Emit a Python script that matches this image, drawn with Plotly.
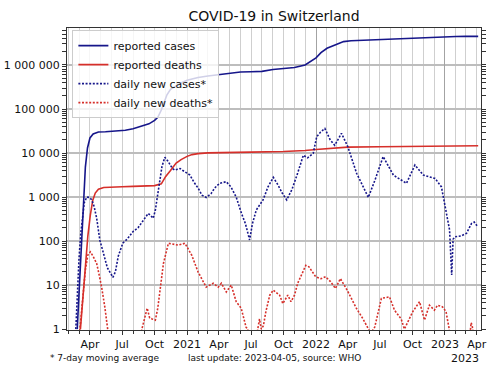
import plotly.graph_objects as go

# ---------------- data ----------------
cases_dates = ["2020-02-25", "2020-03-03", "2020-03-08", "2020-03-12", "2020-03-15", "2020-03-19",
               "2020-03-25", "2020-04-01", "2020-04-10", "2020-04-25", "2020-05-15", "2020-06-15",
               "2020-07-10", "2020-08-01", "2020-08-25", "2020-09-15", "2020-10-01", "2020-10-10",
               "2020-10-20", "2020-10-28", "2020-11-05", "2020-11-15", "2020-12-01", "2020-12-15",
               "2021-01-01", "2021-02-01", "2021-03-01", "2021-04-01", "2021-05-01", "2021-06-01",
               "2021-07-01", "2021-08-01", "2021-09-01", "2021-10-01", "2021-11-01", "2021-12-01",
               "2021-12-20", "2022-01-01", "2022-01-15", "2022-02-01", "2022-03-01", "2022-03-20",
               "2022-04-10", "2022-05-15", "2022-06-15", "2022-07-10", "2022-08-01", "2022-09-01",
               "2022-10-01", "2022-11-01", "2022-12-01", "2023-01-01", "2023-02-01", "2023-03-01",
               "2023-04-05"]
cases_values = [1, 14, 120, 560, 1450, 4800,
                13000, 22000, 27000, 30000, 30500, 31200,
                33000, 35500, 40000, 46000, 55000, 65000,
                95000, 150000, 210000, 280000, 340000, 390000,
                450000, 520000, 560000, 600000, 660000, 690000,
                700000, 715000, 790000, 845000, 875000, 1000000,
                1250000, 1450000, 1900000, 2400000, 2950000, 3400000,
                3550000, 3650000, 3720000, 3850000, 3980000, 4050000,
                4150000, 4300000, 4380000, 4430000, 4450000, 4460000,
                4470000]

deaths_dates = ["2020-03-05", "2020-03-12", "2020-03-19", "2020-03-26", "2020-04-02", "2020-04-09",
                "2020-04-16", "2020-04-25", "2020-05-10", "2020-06-01", "2020-07-01", "2020-08-01",
                "2020-09-01", "2020-10-01", "2020-10-20", "2020-11-01", "2020-11-15", "2020-12-01",
                "2020-12-15", "2021-01-01", "2021-01-15", "2021-02-01", "2021-03-01", "2021-04-01",
                "2021-07-01", "2021-10-01", "2021-11-01", "2021-12-01", "2022-01-01", "2022-02-01",
                "2022-03-01", "2022-04-01", "2022-07-01", "2022-10-01", "2023-01-01", "2023-04-05"]
deaths_values = [1, 5, 28, 130, 390, 850,
                 1230, 1500, 1650, 1700, 1720, 1750,
                 1780, 1820, 2000, 2900, 4000, 5900,
                 7100, 8400, 9200, 9700, 10100, 10300,
                 10500, 10800, 11000, 11400, 12000, 12700,
                 13200, 13600, 13900, 14100, 14400, 14600]

new_cases_dates = ["2020-02-21", "2020-02-26", "2020-03-01", "2020-03-06", "2020-03-11", "2020-03-16",
                   "2020-03-23", "2020-03-30", "2020-04-06", "2020-04-13", "2020-04-20", "2020-04-29",
                   "2020-05-10", "2020-05-20", "2020-06-05", "2020-06-12", "2020-06-20", "2020-07-03",
                   "2020-07-15", "2020-07-25", "2020-08-01", "2020-08-15", "2020-08-25", "2020-09-05",
                   "2020-09-13", "2020-09-20", "2020-09-27", "2020-10-03", "2020-10-08", "2020-10-15",
                   "2020-10-22", "2020-10-30", "2020-11-08", "2020-11-20", "2020-11-27", "2020-12-05",
                   "2020-12-12", "2020-12-20", "2021-01-01", "2021-01-09", "2021-01-20", "2021-02-01",
                   "2021-02-12", "2021-02-24", "2021-03-10", "2021-03-20", "2021-04-03", "2021-04-22",
                   "2021-05-05", "2021-05-20", "2021-06-04", "2021-06-15", "2021-06-27", "2021-07-05",
                   "2021-07-16", "2021-08-04", "2021-08-18", "2021-09-02", "2021-09-15", "2021-09-28",
                   "2021-10-10", "2021-10-25", "2021-11-10", "2021-11-26", "2021-12-08", "2021-12-24",
                   "2022-01-03", "2022-01-14", "2022-01-26", "2022-02-10", "2022-02-23", "2022-03-14",
                   "2022-04-01", "2022-04-26", "2022-05-29", "2022-06-17", "2022-07-10", "2022-08-08",
                   "2022-09-14", "2022-10-08", "2022-11-01", "2022-12-04", "2022-12-22", "2023-01-06",
                   "2023-01-14", "2023-01-20", "2023-01-24", "2023-01-29", "2023-02-15", "2023-03-03",
                   "2023-03-17", "2023-03-25", "2023-04-04"]
new_cases_values = [1, 10, 40, 150, 400, 750,
                    1000, 980, 870, 600, 330, 105,
                    50, 25, 15, 20, 45, 90,
                    110, 140, 165, 200, 260, 350,
                    425, 380, 330, 500, 900, 2200,
                    5000, 8000, 6500, 4500, 4100, 4300,
                    4450, 4000, 3500, 3170, 2200, 1600,
                    1100, 980, 1200, 1600, 2050, 2230,
                    1700, 1000, 425, 250, 106, 250,
                    510, 860, 1700, 2800, 1900, 1200,
                    860, 1500, 3500, 8900, 7800, 9800,
                    23500, 30000, 36000, 20000, 15000, 28000,
                    13900, 3450, 980, 2450, 8300, 3150,
                    2050, 5350, 3150, 2650, 1700, 355,
                    180, 17, 110, 125, 130, 150,
                    250, 270, 210]

new_deaths_dates = ["2020-03-03", "2020-03-12", "2020-03-19", "2020-03-26", "2020-04-02", "2020-04-10",
                    "2020-04-20", "2020-04-27", "2020-05-04", "2020-05-13", "2020-05-22", "2020-05-26",
                    "2020-06-01",
                    "2020-08-22", "2020-08-26", "2020-09-10", "2020-09-17", "2020-09-24", "2020-10-03",
                    "2020-10-10", "2020-10-18", "2020-10-26", "2020-11-09", "2020-11-22", "2020-12-07",
                    "2020-12-26", "2021-01-14", "2021-02-01", "2021-02-24", "2021-03-16", "2021-03-30",
                    "2021-04-08", "2021-04-22", "2021-05-06", "2021-05-20", "2021-06-03", "2021-06-17",
                    "2021-06-22", "2021-06-25",
                    "2021-06-28",
                    "2021-07-17", "2021-07-20", "2021-07-25", "2021-07-30", "2021-08-05", "2021-08-12",
                    "2021-08-23", "2021-09-02", "2021-09-20", "2021-09-29", "2021-10-13", "2021-10-22",
                    "2021-11-01", "2021-11-10", "2021-12-03", "2021-12-12", "2021-12-31", "2022-01-15",
                    "2022-01-28", "2022-02-11", "2022-02-25", "2022-03-11", "2022-03-30", "2022-04-25",
                    "2022-05-14", "2022-05-28", "2022-06-05", "2022-06-16", "2022-07-05", "2022-07-28",
                    "2022-08-11", "2022-08-30", "2022-09-08", "2022-09-13", "2022-10-02", "2022-10-21",
                    "2022-11-04", "2022-11-18", "2022-12-02", "2022-12-11", "2022-12-25", "2023-01-04",
                    "2023-01-13", "2023-01-16",
                    "2023-01-20",
                    "2023-03-13", "2023-03-16", "2023-03-19", "2023-03-22"]
new_deaths_values = [0.9, 5, 22, 48, 57, 45,
                     31, 17, 9, 3.2, 1, 0.5,
                     None,
                     0.5, 1, 3, 1.8, 1.7, 1.6,
                     3, 10, 31, 89, 85, 81,
                     89, 48, 20, 9, 11, 9,
                     11, 7, 10, 4.2, 3, 1.1,
                     1, 0.5,
                     None,
                     0.5, 1, 1.7, 1, 1.2, 2.5,
                     5.9, 7.7, 5.9, 3.8, 5.9, 4.2,
                     5.9, 11, 28, 26, 15.5, 14,
                     15.5, 12, 8.4, 14, 7.7, 3,
                     1.7, 1.0, 0.8, 1.1, 5, 5.4,
                     2.7, 1.7, 1, 1.2, 2.5, 4.2,
                     1.6, 3.5, 2.7, 3.5, 3.2, 2.5,
                     1, 0.5,
                     None,
                     0.8, 1.4, 1.2, 0.8]

quarter_ticks = ["2020-04-01", "2020-07-01", "2020-10-01", "2021-01-01", "2021-04-01", "2021-07-01",
                 "2021-10-01", "2022-01-01", "2022-04-01", "2022-07-01", "2022-10-01", "2023-01-01",
                 "2023-04-01"]
quarter_labels = ["Apr", "Jul", "Oct", "2021", "Apr", "Jul", "Oct", "2022", "Apr", "Jul", "Oct",
                  "2023", "Apr"]
year_ticks = ["2020-01-01", "2021-01-01", "2022-01-01", "2023-01-01"]
y_ticks = [1, 10, 100, 1000, 10000, 100000, 1000000]
y_labels = ["1", "10", "100", "1 000", "10 000", "100 000", "1 000 000"]
y_minor = [m * 10 ** k for k in range(0, 7) for m in range(2, 10)]

x_range = ["2020-01-27", "2023-04-13"]

NAVY = "#16168a"
RED = "#d62f2a"
FONT = "DejaVu Sans"

fig = go.Figure()
fig.add_trace(go.Scatter(x=cases_dates, y=cases_values, mode="lines", name="reported cases",
                         line=dict(color=NAVY, width=1.6)))
fig.add_trace(go.Scatter(x=deaths_dates, y=deaths_values, mode="lines", name="reported deaths",
                         line=dict(color=RED, width=1.6)))
fig.add_trace(go.Scatter(x=new_cases_dates, y=new_cases_values, mode="lines", name="daily new cases*",
                         line=dict(color=NAVY, width=1.6, dash="2px,1.6px"), connectgaps=False))
fig.add_trace(go.Scatter(x=new_deaths_dates, y=new_deaths_values, mode="lines", name="daily new deaths*",
                         line=dict(color=RED, width=1.6, dash="2px,1.6px"), connectgaps=False))
# helper trace to attach the year-gridline axis
fig.add_trace(go.Scatter(x=x_range, y=[None, None], xaxis="x2", showlegend=False, hoverinfo="skip"))

fig.update_layout(
    width=500, height=375,
    margin=dict(l=67, r=19, t=28, b=45, autoexpand=False),
    paper_bgcolor="white", plot_bgcolor="white",
    font=dict(family=FONT, size=11, color="#111"),
    title=dict(text="COVID-19 in Switzerland", x=0.5, xref="paper", xanchor="center",
               y=1 - 16 / 375, yref="container", yanchor="middle",
               font=dict(size=14, color="#111", family=FONT)),
    showlegend=True,
    legend=dict(x=0.013, y=0.993, xanchor="left", yanchor="top",
                bgcolor="rgba(255,255,255,0.8)", bordercolor="#cccccc", borderwidth=1,
                font=dict(size=11, family=FONT), tracegroupgap=0, itemwidth=30),
    xaxis=dict(type="date", range=x_range, tickvals=quarter_ticks, ticktext=quarter_labels,
               automargin=False,
               showgrid=True, gridcolor="#cfcfcf", gridwidth=1,
               ticks="outside", ticklen=4, tickcolor="#333", tickfont=dict(size=11),
               showline=True, linecolor="#333", linewidth=1, mirror=True,
               minor=dict(dtick="M1", tick0="2020-01-01", ticks="outside", ticklen=3,
                          tickcolor="#333", showgrid=True, gridcolor="#cfcfcf", gridwidth=1)),
    xaxis2=dict(type="date", range=x_range, overlaying="x", side="bottom", matches="x",
                automargin=False,
                tickvals=year_ticks, showticklabels=False, ticks="",
                showgrid=True, gridcolor="#a3a3a3", gridwidth=1.3, showline=False),
    yaxis=dict(type="log", range=[-0.02, 6.84], tickvals=y_ticks, ticktext=y_labels,
               automargin=False,
               showgrid=True, gridcolor="#bdbdbd", gridwidth=1.6,
               ticks="outside", ticklen=4, tickcolor="#333", tickfont=dict(size=11),
               showline=True, linecolor="#333", linewidth=1, mirror="allticks",
               minor=dict(tickvals=y_minor, ticks="outside", ticklen=2, tickcolor="#333",
                          showgrid=False)),
    annotations=[
        dict(text="* 7-day moving average", xref="paper", yref="paper", x=(48 - 67) / 414,
             y=(330 - 358) / 302, xanchor="left", yanchor="middle", showarrow=False,
             font=dict(size=9, family=FONT, color="#111")),
        dict(text="last update: 2023-04-05, source: WHO", xref="paper", yref="paper",
             x=(186 - 67) / 414, y=(330 - 358) / 302, xanchor="left", yanchor="middle",
             showarrow=False, font=dict(size=9, family=FONT, color="#111")),
        dict(text="2023", xref="paper", yref="paper", x=1.0, y=(330 - 358) / 302,
             xanchor="right", yanchor="middle", showarrow=False,
             font=dict(size=11, family=FONT, color="#111")),
    ],
)

fig.write_html("out.html", config={"displayModeBar": False},
               post_script="document.body.style.margin='0';")
